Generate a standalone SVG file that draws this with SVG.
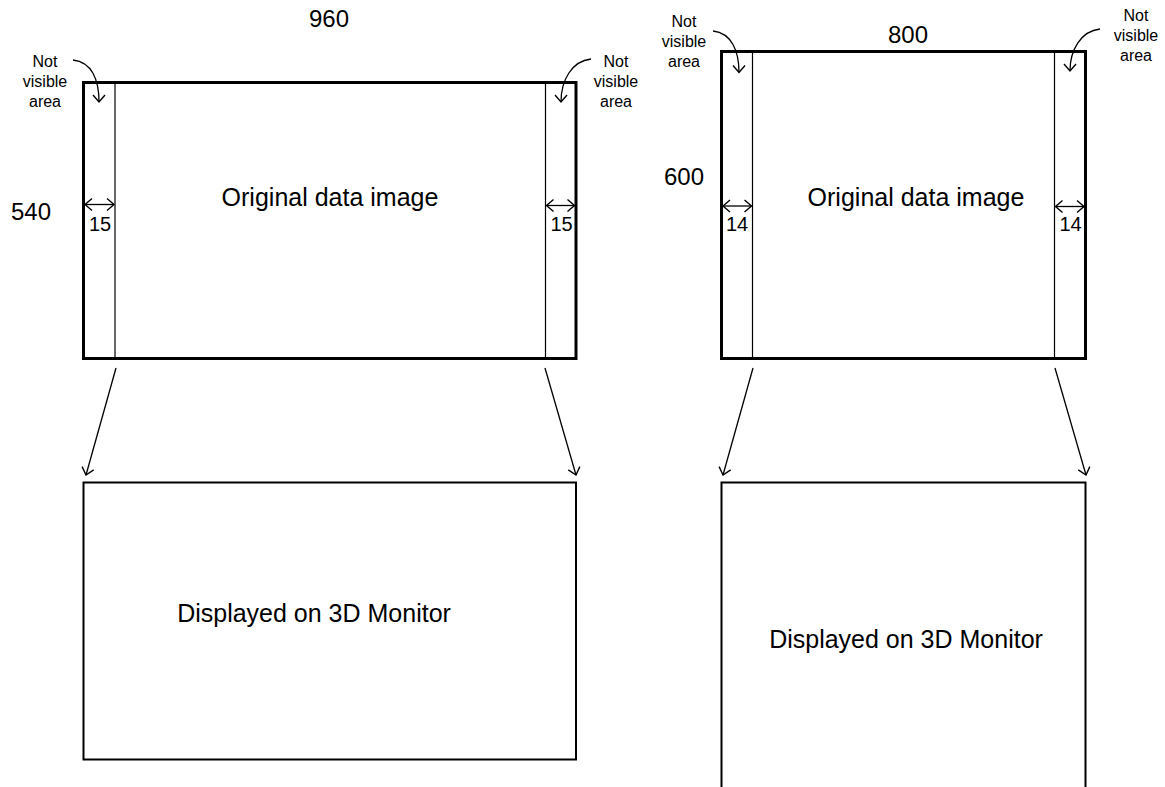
<svg xmlns="http://www.w3.org/2000/svg" width="1165" height="787" viewBox="0 0 1165 787">
<style>
  text { font-family: "Liberation Sans", Arial, sans-serif; fill: #000; }
  .big { font-size: 24px; }
  .lbl { font-size: 25px; }
  .num { font-size: 20px; }
  .note { font-size: 16px; }
  .frame { fill: #fff; stroke: #000; stroke-width: 3; }
  .mon { fill: #fff; stroke: #000; stroke-width: 2; }
  .strip { stroke: #000; stroke-width: 1.2; fill: none; }
  .conn { stroke: #000; stroke-width: 1.3; fill: none; }
</style>
<defs>
  <marker id="ah" markerUnits="userSpaceOnUse" markerWidth="20" markerHeight="20" viewBox="-10 -10 20 20" refX="0" refY="0" orient="auto-start-reverse">
    <path d="M-7,-6 L0,0 L-7,6" fill="none" stroke="#000" stroke-width="1.4"/>
  </marker>
</defs>

<rect width="1165" height="787" fill="#fff"/>

<!-- Left diagram -->
<g id="left-original">
  <rect class="frame" x="83.5" y="82.5" width="492.5" height="276"/>
  <line class="strip" x1="115" y1="82.5" x2="115" y2="358.5"/>
  <line class="strip" x1="545.5" y1="82.5" x2="545.5" y2="358.5"/>
  <text class="lbl" x="330" y="206" text-anchor="middle">Original data image</text>
</g>
<g id="left-width-label"><text class="big" x="329" y="27" text-anchor="middle">960</text></g>
<g id="left-height-label"><text class="big" x="31" y="220" text-anchor="middle">540</text></g>
<g id="left-note-l">
  <text class="note" x="45" y="67" text-anchor="middle">Not</text>
  <text class="note" x="45" y="87" text-anchor="middle">visible</text>
  <text class="note" x="45" y="107" text-anchor="middle">area</text>
</g>
<g id="left-note-r">
  <text class="note" x="616" y="67" text-anchor="middle">Not</text>
  <text class="note" x="616" y="87" text-anchor="middle">visible</text>
  <text class="note" x="616" y="107" text-anchor="middle">area</text>
</g>
<g id="left-dim-l">
  <text class="num" x="100" y="231" text-anchor="middle">15</text>
</g>
<g id="left-dim-r">
  <text class="num" x="561.5" y="231" text-anchor="middle">15</text>
</g>
<g id="left-monitor">
  <rect class="mon" x="83.5" y="482.5" width="492.5" height="277"/>
  <text class="lbl" x="314" y="622" text-anchor="middle">Displayed on 3D Monitor</text>
</g>

<!-- Right diagram -->
<g id="right-original">
  <rect class="frame" x="721.5" y="51.5" width="364" height="307"/>
  <line class="strip" x1="752.5" y1="51.5" x2="752.5" y2="358.5"/>
  <line class="strip" x1="1054.5" y1="51.5" x2="1054.5" y2="358.5"/>
  <text class="lbl" x="916" y="206" text-anchor="middle">Original data image</text>
</g>
<g id="right-width-label"><text class="big" x="908" y="43" text-anchor="middle">800</text></g>
<g id="right-height-label"><text class="big" x="684" y="185" text-anchor="middle">600</text></g>
<g id="right-note-l">
  <text class="note" x="684" y="27" text-anchor="middle">Not</text>
  <text class="note" x="684" y="47" text-anchor="middle">visible</text>
  <text class="note" x="684" y="67" text-anchor="middle">area</text>
</g>
<g id="right-note-r">
  <text class="note" x="1136" y="21" text-anchor="middle">Not</text>
  <text class="note" x="1136" y="41" text-anchor="middle">visible</text>
  <text class="note" x="1136" y="61" text-anchor="middle">area</text>
</g>
<g id="right-dim-l">
  <text class="num" x="737" y="231" text-anchor="middle">14</text>
</g>
<g id="right-dim-r">
  <text class="num" x="1070.5" y="231" text-anchor="middle">14</text>
</g>
<g id="right-monitor">
  <path class="mon" d="M721.5,800 L721.5,482.5 L1085.5,482.5 L1085.5,800"/>
  <text class="lbl" x="906" y="648" text-anchor="middle">Displayed on 3D Monitor</text>
</g>

<!-- Connectors -->
<g id="connectors">
  <!-- dimension arrows -->
  <line class="conn" x1="85" y1="204.5" x2="114" y2="204.5" marker-start="url(#ah)" marker-end="url(#ah)"/>
  <line class="conn" x1="546.5" y1="205.5" x2="574.5" y2="205.5" marker-start="url(#ah)" marker-end="url(#ah)"/>
  <line class="conn" x1="723" y1="206" x2="751.5" y2="206" marker-start="url(#ah)" marker-end="url(#ah)"/>
  <line class="conn" x1="1055.5" y1="206.5" x2="1084" y2="206.5" marker-start="url(#ah)" marker-end="url(#ah)"/>
  <!-- curved note arrows -->
  <path class="conn" d="M73,60 C92,62 99,80 99,102" marker-end="url(#ah)"/>
  <path class="conn" d="M591,59 C572,61 561,80 561,102" marker-end="url(#ah)"/>
  <path class="conn" d="M713,31 C732,33 739,52 739,72.5" marker-end="url(#ah)"/>
  <path class="conn" d="M1100,29 C1081,31 1070,50 1070,71" marker-end="url(#ah)"/>
  <!-- mapping arrows -->
  <line class="conn" x1="116" y1="368" x2="86" y2="475" marker-end="url(#ah)"/>
  <line class="conn" x1="545" y1="368" x2="576" y2="475" marker-end="url(#ah)"/>
  <line class="conn" x1="753" y1="368" x2="723" y2="475" marker-end="url(#ah)"/>
  <line class="conn" x1="1055" y1="368" x2="1086" y2="475" marker-end="url(#ah)"/>
</g>
</svg>
